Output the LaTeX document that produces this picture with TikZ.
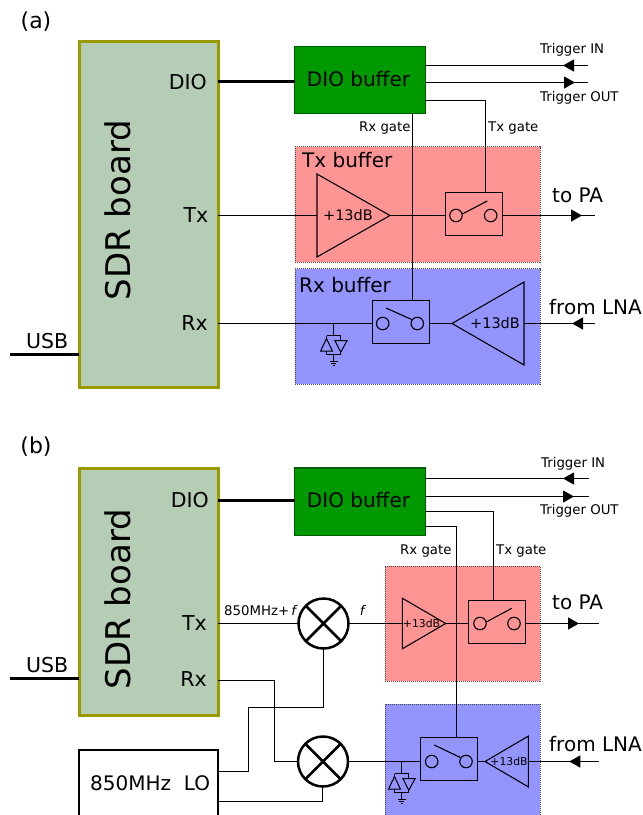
\documentclass[tikz,border=0pt]{standalone}
\usepackage{fontspec}
\setmainfont{DejaVu Sans}
\usetikzlibrary{calc,shapes.geometric,shapes.misc,arrows.meta,decorations.markings}

\definecolor{boardfill}{HTML}{B5CDB5}
\definecolor{boardline}{HTML}{999900}
\definecolor{diogreen}{HTML}{009900}
\definecolor{txred}{HTML}{FF9494}
\definecolor{rxblue}{HTML}{9494FF}

\begin{document}
\begin{tikzpicture}
 [x=1pt, y=-1pt, line join=miter,
  base node/.style={rectangle, draw, outer sep=0pt, inner sep=0pt},
  board node/.style={base node, line width=3pt, draw=boardline, fill=boardfill, minimum width=139pt},
  dio node/.style={base node, line width=1.2pt, draw=diogreen!60!black, fill=diogreen, minimum width=130.5pt},
  buffer node/.style={base node, densely dotted, line width=1pt, draw=black!70},
  switch node/.style={base node, line width=1.1pt, minimum width=57pt, minimum height=43pt},
  pole node/.style={circle, draw, outer sep=0pt, inner sep=0pt, line width=1.1pt, minimum size=12.5pt},
  amp node/.style={isosceles triangle, isosceles triangle stretches, draw, outer sep=0pt, inner sep=0pt, line width=1.1pt},
  mixer node/.style={cross out, outer sep=0pt, inner sep=0pt, minimum size=35.4pt},
  mixer ring/.style={circle, draw, fill=white, outer sep=0pt, inner sep=0pt, line width=2.5pt, minimum size=50pt},
  lo node/.style={base node, line width=1.5pt, fill=white, minimum width=139pt},
  huge text/.style={font=\fontsize{34}{36}\selectfont, inner sep=0pt},
  big text/.style={font=\fontsize{20}{24}\selectfont, inner sep=0pt},
  panel text/.style={font=\fontsize{22}{24}\selectfont, inner sep=0pt},
  port text/.style={font=\fontsize{20.5}{22}\selectfont, inner sep=0pt},
  gain text/.style={font=\fontsize{14.5}{16}\selectfont, inner sep=0pt},
  small gain text/.style={font=\fontsize{10.8}{12}\selectfont, inner sep=0pt},
  small text/.style={font=\fontsize{13.3}{15}\selectfont, inner sep=0pt},
  wire/.style={line width=1.1pt},
  signal wire/.style={line width=1.5pt},
  thick wire/.style={line width=3pt},
  arrow at/.style={postaction={decorate, decoration={markings,
      mark=at position #1 with {\arrow{Triangle[length=11pt,width=12pt]}}}}},
  clamp/.pic={
    \draw[line width=1pt] (-7,12) -- (7.3,12) (-7,12) -- (-7,15) (7.3,12) -- (7.3,17);
    \draw[line width=1pt] (-13,27.7) -- (-1,27.7) -- (-7,15) -- cycle;
    \draw[line width=1pt] (1.3,17) -- (13.6,17) -- (7.3,28.7) -- cycle;
    \draw[line width=1pt] (-7,27.7) -- (-7,31) -- (7.3,31) -- (7.3,28.7);
    \draw[line width=1pt] (0,31) -- (0,38);
    \draw[line width=1pt] (-4,38) -- (4,38) (-2.5,40) -- (2.5,40) (-1,42) -- (1,42);
    \coordinate (-top) at (0,12);
  }]

 \useasboundingbox (0,0) rectangle (643,815);

 % panel (a)
 \node[panel text] (labelA) at (36,22) {(a)};

 \node[buffer node, fill=txred, minimum width=245pt, minimum height=115.3pt] (txbufA) at (417.5,204.5) {};
 \node[buffer node, fill=rxblue, minimum width=245pt, minimum height=115.3pt] (rxbufA) at (417.5,326.5) {};
 \node[board node, minimum height=346pt] (boardA) at (148.5,214) {};
 \node[dio node, minimum height=67pt] (dioA) at (360,80) {};

 \node[huge text, rotate=90] (sdrA) at (118,210) {SDR board};
 \node[port text, anchor=east] (dioportA) at (207,82) {DIO};
 \node[port text, anchor=east] (txportA) at (208.5,215) {Tx};
 \node[port text, anchor=east] (rxportA) at (208,323) {Rx};
 \node[port text, anchor=west] (usbA) at (26,341) {USB};
 \node[big text] (diotextA) at (358.5,79) {DIO buffer};
 \node[big text, anchor=west] (txnameA) at (302,160) {Tx buffer};
 \node[big text, anchor=west] (rxnameA) at (299,285) {Rx buffer};
 \node[big text, anchor=west] (topaA) at (552,195) {to PA};
 \node[big text, anchor=west] (fromlnaA) at (549,307) {from LNA};
 \node[small text, anchor=west] (trginA) at (540,49.5) {Trigger IN};
 \node[small text, anchor=west] (trgoutA) at (540,97.5) {Trigger OUT};
 \node[small text, anchor=west] (rxgateA) at (359,128) {Rx gate};
 \node[small text, anchor=west] (txgateA) at (488,128) {Tx gate};

 \node[amp node, anchor=apex, minimum height=73pt, minimum width=83pt] (txampA) at (390,215.5) {};
 \node[amp node, anchor=apex, shape border rotate=180, minimum height=72pt, minimum width=83pt] (rxampA) at (452,323.5) {};
 \node[gain text] (txgainA) at (348,215) {+13dB};
 \node[gain text] (rxgainA) at (495,323) {+13dB};

 \node[switch node] (txswA) at (474,214) {};
 \node[pole node] (txinA) at (456,215.5) {};
 \node[pole node] (txoutA) at (490.7,215.5) {};
 \coordinate (txbladeA) at (487.3,201);
 \node[switch node] (rxswA) at (401,322) {};
 \node[pole node] (rxinA) at (382.7,323.5) {};
 \node[pole node] (rxoutA) at (417.3,323.5) {};
 \coordinate (rxbladeA) at (386,308);

 \pic (clampA) at (333.5,323.5) {clamp};

 \coordinate (usbendA) at (10,354);
 \coordinate (trginendA) at (588,65.5);
 \coordinate (trgoutendA) at (588,82.5);
 \coordinate (paendA) at (595,215.5);
 \coordinate (lnaendA) at (595,323.5);
 \coordinate (txgatebendA) at (485.5,100.5);

 \draw[thick wire] (boardA.east |- 0,81.7) -- (dioA.west |- 0,81.7);
 \draw[thick wire] (usbendA) -- (usbendA -| boardA.west);
 \draw[wire, arrow at=25pt] (trginendA) -- (trginendA -| dioA.east);
 \draw[wire, arrow at=-13pt] (trgoutendA -| dioA.east) -- (trgoutendA);
 \draw[wire] (dioA.east |- txgatebendA) -- (txgatebendA) -- (txgatebendA |- txswA.north);
 \draw[wire] (412.5,0 |- dioA.south) -- (412.5,0 |- rxswA.north);
 \draw[signal wire] (boardA.east |- txampA.lower side) -- (txampA.lower side);
 \draw[signal wire] (txampA.apex) -- (txswA.west |- txampA.apex);
 \draw[signal wire, arrow at=-13pt] (txswA.east |- paendA) -- (paendA);
 \draw[wire] (txinA.center) ++(6.25,-1.5) -- (txbladeA);
 \draw[signal wire] (boardA.east |- rxinA) -- (rxswA.west |- rxinA);
 \draw[signal wire] (rxswA.east |- rxampA.apex) -- (rxampA.apex);
 \draw[signal wire, arrow at=23pt] (lnaendA) -- (rxampA.lower side);
 \draw[wire] (rxbladeA) -- ($(rxoutA.center)+(-5.6,-4)$);
 \draw[wire] (clampA-top |- rxinA) -- (clampA-top);

 % panel (b)
 \node[panel text] (labelB) at (36,447) {(b)};

 \node[buffer node, fill=txred, minimum width=155pt, minimum height=115pt] (txbufB) at (462.5,623.5) {};
 \node[buffer node, fill=rxblue, minimum width=155pt, minimum height=118pt] (rxbufB) at (462.5,763) {};
 \node[board node, minimum height=247pt] (boardB) at (148.5,592) {};
 \node[dio node, minimum height=67.3pt] (dioB) at (360,501.6) {};
 \node[lo node, minimum height=80pt] (loB) at (148.5,790) {};

 \node[huge text, rotate=90] (sdrB) at (118,599) {SDR board};
 \node[port text, anchor=east] (dioportB) at (209,500) {DIO};
 \node[port text, anchor=east] (txportB) at (207,623) {Tx};
 \node[port text, anchor=east] (rxportB) at (207,679) {Rx};
 \node[port text, anchor=west] (usbB) at (26,665) {USB};
 \node[big text] (diotextB) at (358.5,500) {DIO buffer};
 \node[big text, anchor=west] (topaB) at (552,602) {to PA};
 \node[big text, anchor=west] (fromlnaB) at (549,744) {from LNA};
 \node[small text, anchor=west] (trginB) at (541,463.5) {Trigger IN};
 \node[small text, anchor=west] (trgoutB) at (540,510.5) {Trigger OUT};
 \node[small text, anchor=west] (rxgateB) at (400,551) {Rx gate};
 \node[small text, anchor=west] (txgateB) at (496,551) {Tx gate};
 \node[small text, anchor=west] (ifplusB) at (224,610.5) {850MHz+\,\textit{f}};
 \node[small text] (ifB) at (363,610) {\textit{f}};
 \node[big text, anchor=west] (lotextB) at (90,783) {850MHz\ \ LO};

 \node[mixer ring] (mixtxB) at (323.5,623.5) {};
 \node[mixer node, draw, line width=2.5pt] (mixtxcrossB) at (323.5,623.5) {};
 \node[mixer ring] (mixrxB) at (323,761.5) {};
 \node[mixer node, draw, line width=2.5pt] (mixrxcrossB) at (323,761.5) {};

 \node[amp node, anchor=apex, minimum height=43.4pt, minimum width=50.6pt] (txampB) at (445.7,623.5) {};
 \node[amp node, anchor=apex, shape border rotate=180, minimum height=43.3pt, minimum width=50.7pt] (rxampB) at (485,761.5) {};
 \node[small gain text] (txgainB) at (421.5,623.3) {+13dB};
 \node[small gain text] (rxgainB) at (509,761) {+13dB};

 \node[switch node] (txswB) at (497,622) {};
 \node[pole node] (txinB) at (480,623.5) {};
 \node[pole node] (txoutB) at (514,623.5) {};
 \coordinate (txbladeB) at (511.7,608.3);
 \node[switch node] (rxswB) at (449,759) {};
 \node[pole node] (rxinB) at (431.7,761.5) {};
 \node[pole node] (rxoutB) at (466,761.5) {};
 \coordinate (rxbladeB) at (434.3,745);

 \pic (clampB) at (401.5,761.5) {clamp};

 \coordinate (usbendB) at (10,678);
 \coordinate (trginendB) at (589,478.5);
 \coordinate (trgoutendB) at (589,496.5);
 \coordinate (paendB) at (599,623.5);
 \coordinate (lnaendB) at (599,761.5);
 \coordinate (txgatebendB) at (493.5,511.5);
 \coordinate (rxgatebendB) at (456.5,526.5);
 \coordinate (rxbendaB) at (274.5,680.5);
 \coordinate (lobendaB) at (248.5,707.5);
 \coordinate (lobendbB) at (248.5,771.5);

 \draw[thick wire] (boardB.east |- 0,500) -- (dioB.west |- 0,500);
 \draw[thick wire] (usbendB) -- (usbendB -| boardB.west);
 \draw[wire, arrow at=26pt] (trginendB) -- (trginendB -| dioB.east);
 \draw[wire, arrow at=-15pt] (trgoutendB -| dioB.east) -- (trgoutendB);
 \draw[wire] (dioB.east |- txgatebendB) -- (txgatebendB) -- (txgatebendB |- txswB.north);
 \draw[wire] (dioB.east |- rxgatebendB) -- (rxgatebendB) -- (rxgatebendB |- rxswB.north);
 \draw[signal wire] (boardB.east |- mixtxB) -- (mixtxB.west);
 \draw[signal wire] (mixtxB.east) -- (txampB.lower side);
 \draw[signal wire] (txampB.apex) -- (txswB.west |- txampB.apex);
 \draw[signal wire, arrow at=-20pt] (txswB.east |- paendB) -- (paendB);
 \draw[wire] (txinB.center) ++(6.25,-1.5) -- (txbladeB);
 \draw[signal wire] (mixrxB.east) -- (rxswB.west |- mixrxB);
 \draw[signal wire] (rxswB.east |- rxampB.apex) -- (rxampB.apex);
 \draw[signal wire, arrow at=29.7pt] (lnaendB) -- (rxampB.lower side);
 \draw[wire] (rxbladeB) -- ($(rxoutB.center)+(-5.6,-4)$);
 \draw[wire] (clampB-top |- rxinB) -- (clampB-top);
 \draw[signal wire] (boardB.east |- rxbendaB) -- (rxbendaB) -- (rxbendaB |- mixrxB) -- (mixrxB.west);
 \draw[signal wire] (mixtxB.south) -- (mixtxB.south |- lobendaB) -- (lobendaB) -- (lobendbB) -- (lobendbB -| loB.east);
 \draw[signal wire] ([xshift=-.5pt]mixrxB.south) -- ([xshift=-.5pt]mixrxB.south |- 0,801.5) -- (loB.east |- 0,801.5);

\end{tikzpicture}
\end{document}
